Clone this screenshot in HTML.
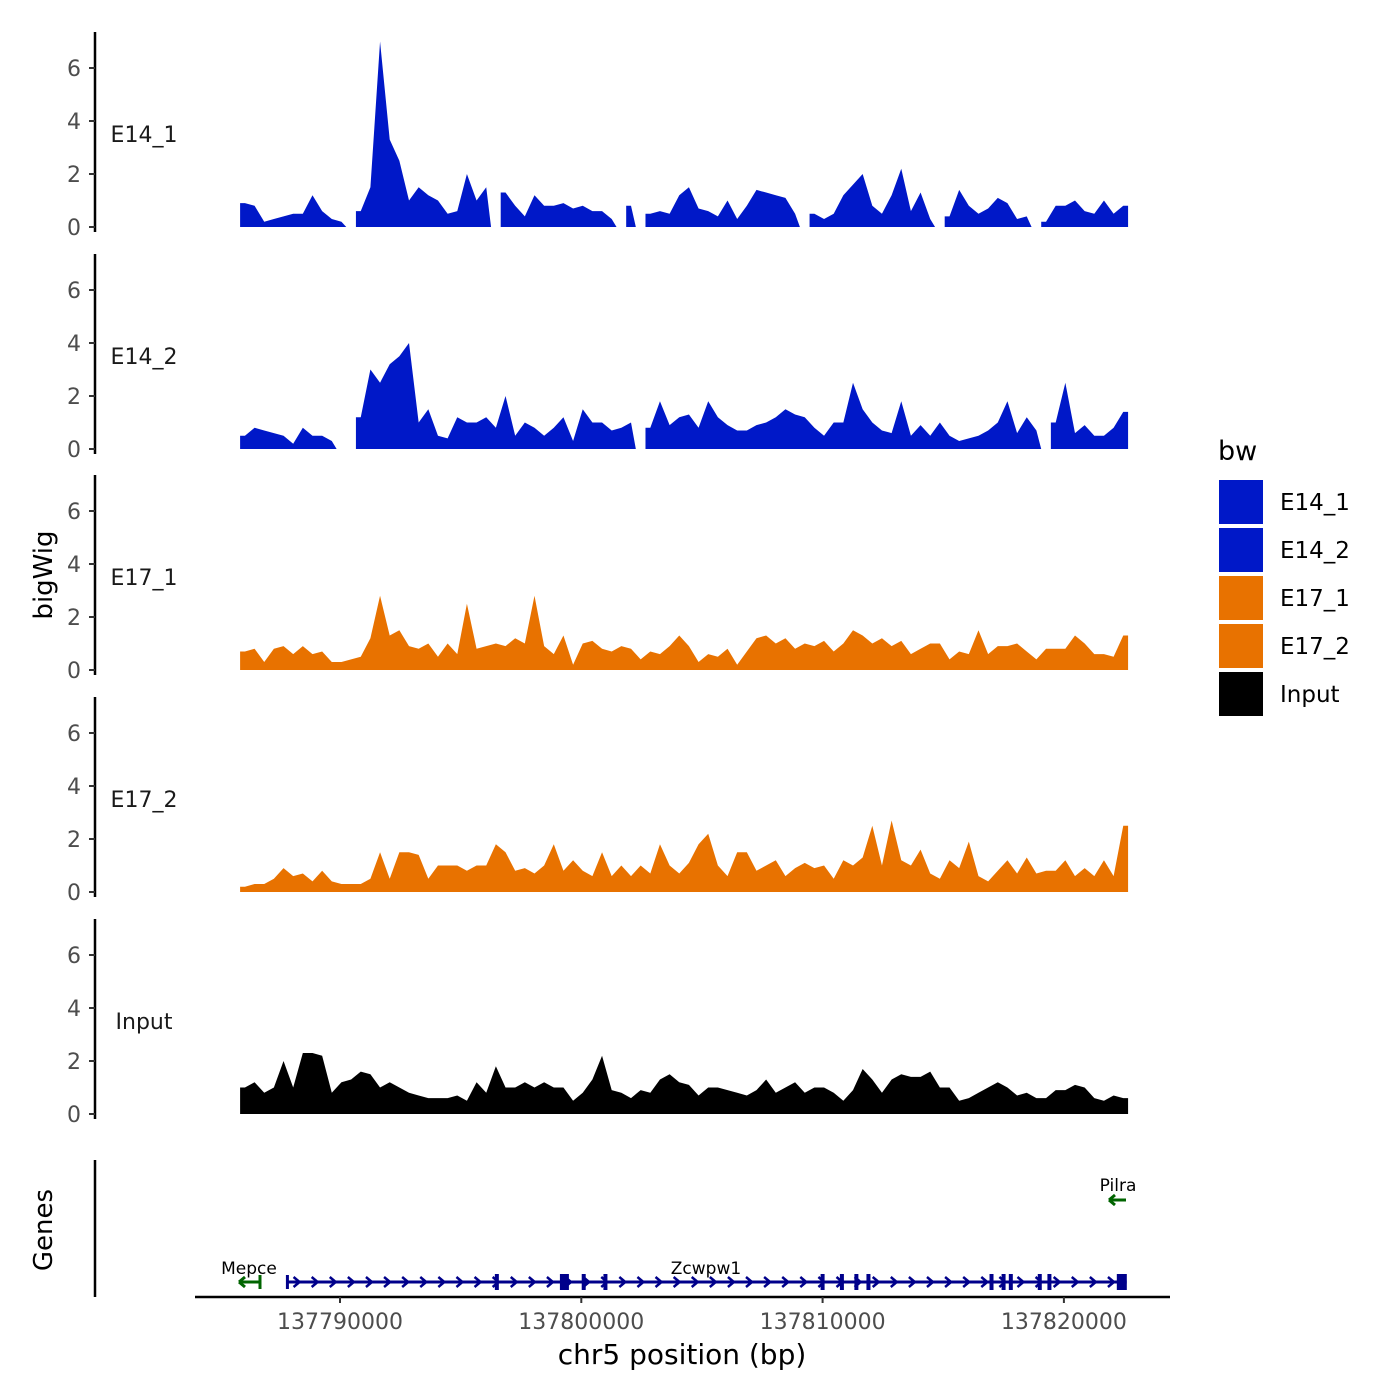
<!DOCTYPE html>
<html><head><meta charset="utf-8"><style>
body{margin:0;background:#fff}
svg{display:block;font-family:"DejaVu Sans","Liberation Sans",sans-serif}
</style></head><body>
<svg id="chart" width="1400" height="1400" viewBox="0 0 1400 1400">
<g id="tracks"></g>
<g id="genes"></g>
<g id="xaxis"></g>
<text x="52" y="575" transform="rotate(-90 52 575)" text-anchor="middle" font-size="26">bigWig</text>
<text x="52" y="1230" transform="rotate(-90 52 1230)" text-anchor="middle" font-size="26">Genes</text>
<text x="682" y="1364" text-anchor="middle" font-size="28">chr5 position (bp)</text>
<g id="legend"></g>
</svg>
<script>
const trackNames=["E14_1","E14_2","E17_1","E17_2","Input"];
const trackColors=["#0018C8","#0018C8","#E87200","#E87200","#000000"];
const binStartKb=137785.86;
const binSizeKb=0.4;
const yTicks=[0,2,4,6];
const xTicks=[137790000,137800000,137810000,137820000];
const N=null;
const e14_1=[0.9,0.8,0.2,0.3,0.4,0.5,0.5,1.2,0.6,0.3,0.2,N,0.6,1.5,7,3.3,2.5,1.0,1.5,1.2,1.0,0.5,0.6,2.0,1.0,1.5,N,1.3,0.8,0.4,1.2,0.8,0.8,0.9,0.7,0.8,0.6,0.6,0.3,N,0.8,N,0.5,0.6,0.5,1.2,1.5,0.7,0.6,0.4,1.0,0.3,0.8,1.4,1.3,1.2,1.1,0.5,N,0.5,0.3,0.5,1.2,1.6,2.0,0.8,0.5,1.2,2.2,0.6,1.3,0.3,N,0.4,1.4,0.8,0.5,0.7,1.1,0.9,0.3,0.4,N,0.2,0.8,0.8,1.0,0.6,0.5,1.0,0.5,0.8];
const e14_2=[0.5,0.8,0.7,0.6,0.5,0.2,0.8,0.5,0.5,0.3,N,N,1.2,3.0,2.5,3.2,3.5,4.0,1.0,1.5,0.5,0.4,1.2,1.0,1.0,1.2,0.8,2.0,0.5,1.0,0.8,0.5,0.8,1.2,0.3,1.5,1.0,1.0,0.7,0.8,1.0,N,0.8,1.8,0.9,1.2,1.3,0.8,1.8,1.2,0.9,0.7,0.7,0.9,1.0,1.2,1.5,1.3,1.2,0.8,0.5,1.0,1.0,2.5,1.5,1.0,0.7,0.6,1.8,0.5,0.9,0.5,1.0,0.5,0.3,0.4,0.5,0.7,1.0,1.8,0.6,1.2,0.7,N,1.0,2.5,0.6,0.9,0.5,0.5,0.8,1.4];
const e17_1=[0.7,0.8,0.3,0.8,0.9,0.6,0.9,0.6,0.7,0.3,0.3,0.4,0.5,1.2,2.8,1.3,1.5,0.9,0.8,1.0,0.5,1.0,0.6,2.5,0.8,0.9,1.0,0.9,1.2,1.0,2.8,0.9,0.6,1.3,0.2,1.0,1.1,0.8,0.7,0.9,0.8,0.4,0.7,0.6,0.9,1.3,0.9,0.3,0.6,0.5,0.8,0.2,0.7,1.2,1.3,1.0,1.2,0.8,1.0,0.9,1.1,0.7,1.0,1.5,1.3,1.0,1.2,0.9,1.1,0.6,0.8,1.0,1.0,0.4,0.7,0.6,1.5,0.6,0.9,0.9,1.0,0.7,0.4,0.8,0.8,0.8,1.3,1.0,0.6,0.6,0.5,1.3];
const e17_2=[0.2,0.3,0.3,0.5,0.9,0.6,0.7,0.4,0.8,0.4,0.3,0.3,0.3,0.5,1.5,0.5,1.5,1.5,1.4,0.5,1.0,1.0,1.0,0.8,1.0,1.0,1.8,1.5,0.8,0.9,0.7,1.0,1.8,0.8,1.2,0.8,0.6,1.5,0.6,1.0,0.6,1.0,0.7,1.8,1.0,0.7,1.1,1.8,2.2,1.0,0.6,1.5,1.5,0.8,1.0,1.2,0.6,0.9,1.1,0.9,1.0,0.5,1.2,1.0,1.3,2.5,1.0,2.7,1.2,1.0,1.6,0.7,0.5,1.2,0.9,1.9,0.6,0.4,0.8,1.2,0.7,1.3,0.7,0.8,0.8,1.2,0.6,0.9,0.6,1.2,0.6,2.5];
const input=[1.0,1.2,0.8,1.0,2.0,1.0,2.3,2.3,2.2,0.8,1.2,1.3,1.6,1.5,1.0,1.2,1.0,0.8,0.7,0.6,0.6,0.6,0.7,0.5,1.2,0.8,1.8,1.0,1.0,1.2,1.0,1.2,1.0,1.0,0.5,0.8,1.3,2.2,0.9,0.8,0.6,0.9,0.8,1.3,1.5,1.2,1.1,0.7,1.0,1.0,0.9,0.8,0.7,0.9,1.3,0.8,1.0,1.2,0.8,1.0,1.0,0.8,0.5,0.9,1.7,1.3,0.8,1.3,1.5,1.4,1.4,1.6,1.0,1.0,0.5,0.6,0.8,1.0,1.2,1.0,0.7,0.8,0.6,0.6,0.9,0.9,1.1,1.0,0.6,0.5,0.7,0.6];
const trackValues=[e14_1,e14_2,e17_1,e17_2,input];
const zcwpwExonsKb=[137796.5,137799.3,137800.1,137801.0,137810.0,137810.8,137811.4,137811.9,137817.0,137817.5,137817.8,137819.0,137819.4];
const NS="http://www.w3.org/2000/svg";
function xs(bp){return 340+(bp-137790000)*0.02413;}
const panelBase=[227,449,670,892,1114];
const unitPx=26.5;
function mk(tag,attrs,parent){const e=document.createElementNS(NS,tag);for(const k in attrs)e.setAttribute(k,attrs[k]);parent.appendChild(e);return e;}
const tg=document.getElementById('tracks');
trackNames.forEach((name,t)=>{
  const base=panelBase[t];
  const ys=v=>base-v*unitPx;
  const g=mk('g',{},tg);
  
  
  const ax=mk('line',{x1:95,x2:95,y1:base-195,y2:base+5,stroke:'#000','stroke-width':2.5},g);
  
  
  yTicks.forEach(v=>{
    const l=mk('line',{x1:89,x2:95,y1:ys(v),y2:ys(v),stroke:'#333','stroke-width':2},g);
    
    
    const tx=mk('text',{x:81,y:ys(v)+8,'text-anchor':'end','font-size':22,fill:'#4D4D4D'},g);
    tx.textContent=v;
    
    
  });
  const lab=mk('text',{x:144,y:base-85,'text-anchor':'middle','font-size':22,fill:'#1a1a1a'},g);
  lab.textContent=name;
  
  
  const vals=trackValues[t];
  let d='',open=false,lastX=0;
  vals.forEach((v,i)=>{
    const x0=xs((binStartKb+i*binSizeKb)*1000), x1=xs((binStartKb+(i+1)*binSizeKb)*1000), xc=(x0+x1)/2;
    if(v===null){ if(open){d+=`L${lastX},${base}Z`;open=false;} return; }
    if(!open){d+=`M${x0},${base}L${x0},${ys(v)}`;open=true;}
    d+=`L${xc},${ys(v)}`;
    lastX=x1;
    if(i===vals.length-1){d+=`L${x1},${ys(v)}L${x1},${base}Z`;open=false;}
  });
  const p=mk('path',{d:d,fill:trackColors[t]},g);
  
  
});
const gg=document.getElementById('genes');
const gax=mk('line',{x1:95,x2:95,y1:1160,y2:1297,stroke:'#000','stroke-width':2.5},gg);


const navy='#00008B',green='#006400';
const zs=137787800,ze=137822600,gy=1282;
const zl=mk('line',{x1:xs(zs),x2:xs(ze),y1:gy,y2:gy,stroke:navy,'stroke-width':3},gg);


for(let bp=zs+400;bp<ze-300;bp+=750){
  const x=xs(bp);
  const c=mk('path',{d:`M${x-3},${gy-5}L${x+3},${gy}L${x-3},${gy+5}`,fill:'none',stroke:navy,'stroke-width':2.5},gg);
  
  
}
zcwpwExonsKb.forEach(k=>{
  const r=mk('rect',{x:xs(k*1000)-2,y:gy-8,width:4,height:16,fill:navy},gg);
  
  
});
[[137799.3,9],[137822.4,10]].forEach(([k,w])=>{
  const r=mk('rect',{x:xs(k*1000)-w/2,y:gy-8,width:w,height:16,fill:navy},gg);
  
  
});
const st=mk('rect',{x:xs(zs)-1,y:gy-7,width:3,height:14,fill:navy},gg);


const mp=mk('path',{d:`M239,${gy}L261,${gy}M239,${gy}L245,${gy-5}M239,${gy}L245,${gy+5}M260,${gy-7}L260,${gy+7}`,stroke:green,'stroke-width':3,fill:'none'},gg);


const pl=mk('path',{d:`M1109,1200L1126,1200M1109,1200L1115,1195M1109,1200L1115,1205`,stroke:green,'stroke-width':3,fill:'none'},gg);


[["Mepce",249,1274],["Zcwpw1",706,1274],["Pilra",1118,1191]].forEach(([s,x,y])=>{
  const t=mk('text',{x:x,y:y,'text-anchor':'middle','font-size':17},gg);
  t.textContent=s;
  
  
});
const xg=document.getElementById('xaxis');
const xl=mk('line',{x1:195,x2:1170,y1:1297,y2:1297,stroke:'#000','stroke-width':2.5},xg);


xTicks.forEach(v=>{
  const l=mk('line',{x1:xs(v),x2:xs(v),y1:1297,y2:1303,stroke:'#333','stroke-width':2},xg);
  
  
  const t=mk('text',{x:xs(v),y:1329,'text-anchor':'middle','font-size':22,fill:'#4D4D4D'},xg);
  t.textContent=v;
  
  
});
const lg=document.getElementById('legend');
const lt=mk('text',{x:1218,y:460,'font-size':27},lg);
lt.textContent='bw';


trackNames.forEach((n,i)=>{
  const y=480+i*48;
  const r=mk('rect',{x:1219,y:y,width:44,height:44,fill:trackColors[i]},lg);
  
  
  const t=mk('text',{x:1280,y:y+30,'font-size':23},lg);
  t.textContent=n;
  
  
});
</script>
</body></html>
